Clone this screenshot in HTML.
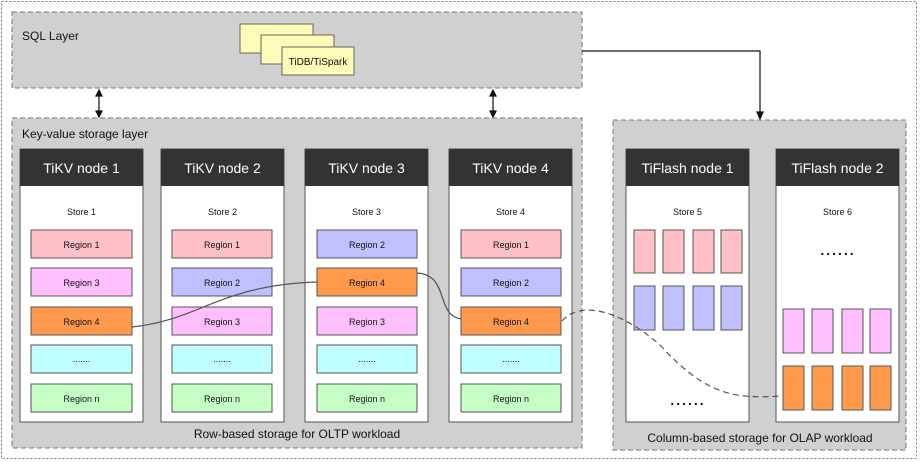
<!DOCTYPE html>
<html><head><meta charset="utf-8"><style>
html,body{margin:0;padding:0;background:#fff;}
svg{display:block;font-family:"Liberation Sans",Arial,sans-serif;}
</style></head><body>
<svg width="920" height="462" viewBox="0 0 920 462" xmlns="http://www.w3.org/2000/svg">
<rect x="1.5" y="1.5" width="915" height="457" fill="#fff" stroke="#777" stroke-width="1" stroke-dasharray="2,2"/>
<!-- SQL layer -->
<rect x="12" y="12" width="570" height="76" fill="#d0d0d0" stroke="#777" stroke-dasharray="5,3"/>
<text x="22" y="40" font-size="12" fill="#111">SQL Layer</text>
<rect x="240" y="24" width="73" height="29" fill="#fdfbb8" stroke="#666"/>
<rect x="261" y="35" width="73" height="29" fill="#fdfbb8" stroke="#666"/>
<rect x="282" y="47" width="72" height="28" fill="#fdfbb8" stroke="#666"/>
<text x="318" y="65" font-size="10" text-anchor="middle" fill="#111">TiDB/TiSpark</text>
<!-- arrows -->
<g stroke="#111" stroke-width="1.2" fill="#111">
<line x1="99" y1="94" x2="99" y2="113"/><path d="M96 96 L99 90 L102 96Z M96 111 L99 117 L102 111Z"/>
<line x1="493" y1="94" x2="493" y2="113"/><path d="M490 96 L493 90 L496 96Z M490 111 L493 117 L496 111Z"/>
<polyline points="582,51 760,51 760,114" fill="none"/><path d="M757 112 L760 119 L763 112Z"/>
</g>
<!-- KV layer -->
<rect x="12" y="118" width="570" height="330" fill="#d0d0d0" stroke="#777" stroke-dasharray="5,3"/>
<text x="22" y="138" font-size="12" fill="#111">Key-value storage layer</text>
<text x="297" y="438" font-size="12" text-anchor="middle" fill="#111">Row-based storage for OLTP workload</text>
<!-- TiFlash layer -->
<rect x="613" y="120" width="293" height="330" fill="#d0d0d0" stroke="#777" stroke-dasharray="5,3"/>
<text x="760" y="442" font-size="12" text-anchor="middle" fill="#111">Column-based storage for OLAP workload</text>

<g id="nodes" font-size="14">
<!-- TiKV nodes -->
<g>
<rect x="20" y="149" width="123" height="273" fill="#fff" stroke="#555"/><rect x="20" y="149" width="123" height="37" fill="#333"/>
<text x="81.5" y="173" fill="#fff" text-anchor="middle">TiKV node 1</text>
<rect x="161" y="149" width="123" height="273" fill="#fff" stroke="#555"/><rect x="161" y="149" width="123" height="37" fill="#333"/>
<text x="222.5" y="173" fill="#fff" text-anchor="middle">TiKV node 2</text>
<rect x="305" y="149" width="123" height="273" fill="#fff" stroke="#555"/><rect x="305" y="149" width="123" height="37" fill="#333"/>
<text x="366.5" y="173" fill="#fff" text-anchor="middle">TiKV node 3</text>
<rect x="449" y="149" width="123" height="273" fill="#fff" stroke="#555"/><rect x="449" y="149" width="123" height="37" fill="#333"/>
<text x="510.5" y="173" fill="#fff" text-anchor="middle">TiKV node 4</text>
<rect x="626" y="149" width="123" height="273" fill="#fff" stroke="#555"/><rect x="626" y="149" width="123" height="37" fill="#333"/>
<text x="687.5" y="173" fill="#fff" text-anchor="middle">TiFlash node 1</text>
<rect x="776" y="149" width="123" height="273" fill="#fff" stroke="#555"/><rect x="776" y="149" width="123" height="37" fill="#333"/>
<text x="837.5" y="173" fill="#fff" text-anchor="middle">TiFlash node 2</text>
</g>
</g>
<g font-size="9" text-anchor="middle" fill="#111">
<text x="81.5" y="215">Store 1</text><text x="222.5" y="215">Store 2</text><text x="366.5" y="215">Store 3</text><text x="510.5" y="215">Store 4</text><text x="687.5" y="215">Store 5</text><text x="837.5" y="215">Store 6</text>
</g>
<!-- regions -->
<g stroke="#555" font-size="9" text-anchor="middle">
<!-- node1 x31 -->
<rect x="31" y="230" width="101" height="28" fill="#ffc0c8"/><rect x="31" y="268" width="101" height="28" fill="#ffbfff"/><rect x="31" y="307" width="101" height="28" fill="#ff9a4d"/><rect x="31" y="345" width="101" height="28" fill="#c0ffff"/><rect x="31" y="384" width="101" height="28" fill="#c6ffc6"/>
<rect x="172" y="230" width="100" height="28" fill="#ffc0c8"/><rect x="172" y="268" width="100" height="28" fill="#c0c0ff"/><rect x="172" y="307" width="100" height="28" fill="#ffbfff"/><rect x="172" y="345" width="100" height="28" fill="#c0ffff"/><rect x="172" y="384" width="100" height="28" fill="#c6ffc6"/>
<rect x="317" y="230" width="100" height="28" fill="#c0c0ff"/><rect x="317" y="268" width="100" height="28" fill="#ff9a4d"/><rect x="317" y="307" width="100" height="28" fill="#ffbfff"/><rect x="317" y="345" width="100" height="28" fill="#c0ffff"/><rect x="317" y="384" width="100" height="28" fill="#c6ffc6"/>
<rect x="461" y="230" width="100" height="28" fill="#ffc0c8"/><rect x="461" y="268" width="100" height="28" fill="#c0c0ff"/><rect x="461" y="307" width="100" height="28" fill="#ff9a4d"/><rect x="461" y="345" width="100" height="28" fill="#c0ffff"/><rect x="461" y="384" width="100" height="28" fill="#c6ffc6"/>
</g>
<g font-size="9" text-anchor="middle" fill="#111">
<text x="81.5" y="248">Region 1</text><text x="81.5" y="286">Region 3</text><text x="81.5" y="325">Region 4</text><text x="81.5" y="362">.......</text><text x="81.5" y="402">Region n</text>
<text x="222" y="248">Region 1</text><text x="222" y="286">Region 2</text><text x="222" y="325">Region 3</text><text x="222" y="362">.......</text><text x="222" y="402">Region n</text>
<text x="367" y="248">Region 2</text><text x="367" y="286">Region 4</text><text x="367" y="325">Region 3</text><text x="367" y="362">.......</text><text x="367" y="402">Region n</text>
<text x="511" y="248">Region 1</text><text x="511" y="286">Region 2</text><text x="511" y="325">Region 4</text><text x="511" y="362">.......</text><text x="511" y="402">Region n</text>
</g>
<!-- TiFlash columns -->
<g stroke="#555">
<rect x="634" y="230" width="21" height="43" fill="#ffc0c8"/><rect x="663" y="230" width="21" height="43" fill="#ffc0c8"/><rect x="693" y="230" width="21" height="43" fill="#ffc0c8"/><rect x="721" y="230" width="21" height="43" fill="#ffc0c8"/>
<rect x="634" y="286" width="21" height="44" fill="#c0c0ff"/><rect x="663" y="286" width="21" height="44" fill="#c0c0ff"/><rect x="693" y="286" width="21" height="44" fill="#c0c0ff"/><rect x="721" y="286" width="21" height="44" fill="#c0c0ff"/>
<rect x="783" y="309" width="21" height="44" fill="#ffbfff"/><rect x="812" y="309" width="21" height="44" fill="#ffbfff"/><rect x="842" y="309" width="21" height="44" fill="#ffbfff"/><rect x="870" y="309" width="21" height="44" fill="#ffbfff"/>
<rect x="783" y="366" width="21" height="44" fill="#ff9a4d"/><rect x="812" y="366" width="21" height="44" fill="#ff9a4d"/><rect x="842" y="366" width="21" height="44" fill="#ff9a4d"/><rect x="870" y="366" width="21" height="44" fill="#ff9a4d"/>
</g>
<text x="688" y="405" font-size="14" font-weight="bold" text-anchor="middle" fill="#111" letter-spacing="2">......</text>
<text x="838" y="255" font-size="14" font-weight="bold" text-anchor="middle" fill="#111" letter-spacing="2">......</text>
<!-- curves -->
<path d="M132 327 C200 320, 220 285, 317 282" fill="none" stroke="#555" stroke-width="1.2"/>
<path d="M417 273 C450 275, 435 315, 461 319" fill="none" stroke="#555" stroke-width="1.2"/>
<path d="M562 321 C580 300, 620 310, 660 345 C710 400, 740 398, 783 396" fill="none" stroke="#555" stroke-width="1.2" stroke-dasharray="6,4"/>
</svg>
</body></html>
